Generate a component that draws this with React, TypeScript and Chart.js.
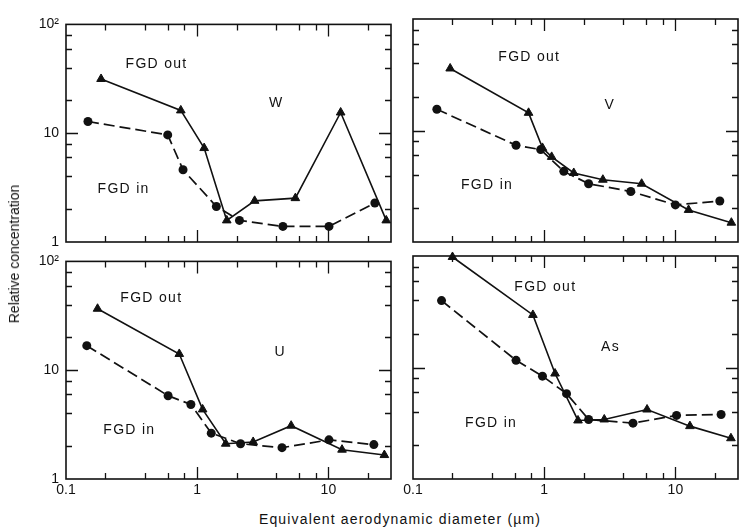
import React, { useEffect, useRef } from "react";
import { Chart, registerables } from "chart.js";

Chart.register(...registerables);

// Equivalent aerodynamic diameter (µm) and relative concentration per element.
// "Out" = FGD outlet (triangles, solid), "In" = FGD inlet (circles, dashed).
const wOutSize = [0.185, 0.75, 1.13, 1.68, 2.74, 5.6, 12.4, 27.6];
const wOut = [31.5, 16.2, 7.3, 1.58, 2.39, 2.53, 15.5, 1.58];
const wInSize = [0.147, 0.596, 0.78, 1.4, 2.1, 4.5, 10.1, 22.6];
const wIn = [12.8, 9.65, 4.61, 2.12, 1.58, 1.39, 1.39, 2.28];

const vOutSize = [0.192, 0.76, 0.97, 1.14, 1.68, 2.8, 5.53, 12.6, 26.7];
const vOut = [36, 14.4, 6.98, 5.8, 4.16, 3.62, 3.33, 1.94, 1.49];
const vInSize = [0.152, 0.61, 0.94, 1.41, 2.18, 4.57, 10, 21.8];
const vIn = [15.5, 7.37, 6.74, 4.3, 3.33, 2.84, 2.15, 2.33];

const uOutSize = [0.174, 0.73, 1.1, 1.65, 2.67, 5.2, 12.7, 26.7];
const uOut = [36.7, 14.1, 4.36, 2.11, 2.19, 3.09, 1.86, 1.66];
const uInSize = [0.144, 0.6, 0.895, 1.28, 2.14, 4.43, 10.1, 22.2];
const uIn = [16.8, 5.83, 4.84, 2.64, 2.11, 1.94, 2.29, 2.07];

const asOutSize = [0.2, 0.82, 1.21, 1.81, 2.87, 6.08, 12.9, 26.5];
const asOut = [98, 29.6, 8.83, 3.35, 3.42, 4.2, 2.98, 2.32];
const asInSize = [0.165, 0.61, 0.97, 1.48, 2.18, 4.75, 10.2, 22.3];
const asIn = [39.8, 11.6, 8.36, 5.83, 3.42, 3.17, 3.72, 3.79];

// Axis ticks
const xMajor = [0.1, 1, 10];
const xMinor = [0.2, 0.4, 0.6, 0.8, 2, 4, 6, 8, 20];
const yMajor = [1, 10, 100];
const yMinor = [2, 4, 6, 8, 20, 40, 60, 80];
const xTickText: Record<number, string> = { 0.1: "0.1", 1: "1", 10: "10" };
const yTickText: Record<number, string> = { 1: "1", 10: "10", 100: "10²" };

const INK = "#111";
const FONT = '"Liberation Sans", Arial, sans-serif';

type Note = { text: string; x: number; y: number };
type Panel = {
  id: string;
  outSize: number[];
  out: number[];
  inSize: number[];
  inn: number[];
  notes: Note[];
  left: number;
  top: number;
  showX: boolean;
  showY: boolean;
};

const PLOT_W = 330;
const PLOT_H = 223;
const M_LEFT = 45;
const M_TOP = 10;
const M_RIGHT = 1;
const M_BOTTOM = 24;

const panels: Panel[] = [
  {
    id: "W", outSize: wOutSize, out: wOut, inSize: wInSize, inn: wIn,
    notes: [
      { text: "FGD out", x: 0.49, y: 42.7 },
      { text: "W", x: 4.0, y: 19 },
      { text: "FGD in", x: 0.275, y: 3.07 },
    ],
    left: 66, top: 19, showX: false, showY: true,
  },
  {
    id: "V", outSize: vOutSize, out: vOut, inSize: vInSize, inn: vIn,
    notes: [
      { text: "FGD out", x: 0.77, y: 45.5 },
      { text: "V", x: 3.16, y: 16.8 },
      { text: "FGD in", x: 0.367, y: 3.26 },
    ],
    left: 413, top: 19, showX: false, showY: false,
  },
  {
    id: "U", outSize: uOutSize, out: uOut, inSize: uInSize, inn: uIn,
    notes: [
      { text: "FGD out", x: 0.447, y: 46 },
      { text: "U", x: 4.3, y: 14.7 },
      { text: "FGD in", x: 0.304, y: 2.8 },
    ],
    left: 66, top: 256, showX: true, showY: true,
  },
  {
    id: "As", outSize: asOutSize, out: asOut, inSize: asInSize, inn: asIn,
    notes: [
      { text: "FGD out", x: 1.02, y: 52.8 },
      { text: "As", x: 3.2, y: 15.2 },
      { text: "FGD in", x: 0.394, y: 3.15 },
    ],
    left: 413, top: 256, showX: true, showY: false,
  },
];

// Box frame plus inward-pointing ticks on all four sides
const frameTicks = {
  id: "frameTicks",
  beforeDatasetsDraw(chart: any) {
    const { ctx, chartArea: a, scales } = chart;
    const x = scales.x;
    const y = scales.y;
    ctx.save();
    ctx.strokeStyle = INK;
    ctx.lineWidth = 1.6;
    ctx.strokeRect(a.left, a.top, a.right - a.left, a.bottom - a.top);
    ctx.lineWidth = 1.3;
    ctx.beginPath();
    const xt = [...xMajor.map((v) => [v, 12]), ...xMinor.map((v) => [v, 6])];
    for (const [v, len] of xt) {
      const px = Math.round(x.getPixelForValue(v)) + 0.5;
      if (px <= a.left + 1 || px >= a.right - 1) continue;
      ctx.moveTo(px, a.bottom);
      ctx.lineTo(px, a.bottom - len);
      ctx.moveTo(px, a.top);
      ctx.lineTo(px, a.top + len);
    }
    const yt = [...yMajor.map((v) => [v, 12]), ...yMinor.map((v) => [v, 6])];
    for (const [v, len] of yt) {
      const py = Math.round(y.getPixelForValue(v)) + 0.5;
      if (py <= a.top + 1 || py >= a.bottom - 1) continue;
      ctx.moveTo(a.left, py);
      ctx.lineTo(a.left + len, py);
      ctx.moveTo(a.right, py);
      ctx.lineTo(a.right - len, py);
    }
    ctx.stroke();
    ctx.restore();
  },
};

// In-plot text placed in data coordinates
const panelNotes = {
  id: "panelNotes",
  afterDatasetsDraw(chart: any, _args: any, opts: any) {
    const { ctx, scales } = chart;
    const notes: Note[] = opts.notes || [];
    ctx.save();
    ctx.fillStyle = INK;
    ctx.font = `14px ${FONT}`;
    (ctx as any).letterSpacing = "1.3px";
    ctx.textAlign = "center";
    ctx.textBaseline = "middle";
    for (const n of notes) {
      ctx.fillText(n.text, scales.x.getPixelForValue(n.x), scales.y.getPixelForValue(n.y));
    }
    ctx.restore();
  },
};

function PanelChart({ p }: { p: Panel }) {
  const ref = useRef<HTMLCanvasElement | null>(null);
  useEffect(() => {
    if (!ref.current) return;
    const tickFont = { family: FONT, size: 14 };
    const chart = new Chart(ref.current, {
      type: "line",
      data: {
        datasets: [
          {
            label: "FGD out",
            data: p.outSize.map((x, i) => ({ x, y: p.out[i] })),
            borderColor: INK,
            backgroundColor: INK,
            borderWidth: 1.6,
            pointStyle: "triangle",
            pointRadius: 5,
            pointBorderWidth: 1,
            clip: false,
          } as any,
          {
            label: "FGD in",
            data: p.inSize.map((x, i) => ({ x, y: p.inn[i] })),
            borderColor: INK,
            backgroundColor: INK,
            borderWidth: 1.7,
            borderDash: [11, 5],
            pointStyle: "circle",
            pointRadius: 4.5,
            pointBorderWidth: 0,
            clip: false,
          } as any,
        ],
      },
      options: {
        animation: false,
        responsive: false,
        events: [],
        layout: { padding: { top: M_TOP, right: M_RIGHT, left: 0, bottom: 0 } },
        plugins: {
          legend: { display: false },
          tooltip: { enabled: false },
          panelNotes: { notes: p.notes },
        } as any,
        scales: {
          x: {
            type: "logarithmic",
            min: 0.1,
            max: 30,
            grid: { display: false, drawTicks: false },
            border: { display: false },
            afterBuildTicks: (s: any) => {
              s.ticks = xMajor.map((value) => ({ value }));
            },
            afterFit: (s: any) => {
              s.height = M_BOTTOM;
            },
            ticks: {
              display: p.showX,
              autoSkip: false,
              maxRotation: 0,
              padding: 3,
              color: INK,
              font: tickFont,
              callback: (v: any) => xTickText[Number(v)] ?? "",
            },
          },
          y: {
            type: "logarithmic",
            min: 1,
            max: 100,
            grid: { display: false, drawTicks: false },
            border: { display: false },
            afterBuildTicks: (s: any) => {
              s.ticks = yMajor.map((value) => ({ value }));
            },
            afterFit: (s: any) => {
              s.width = M_LEFT;
            },
            ticks: {
              display: p.showY,
              autoSkip: false,
              padding: 7,
              color: INK,
              font: tickFont,
              callback: (v: any) => yTickText[Number(v)] ?? "",
            },
          },
        },
      } as any,
      plugins: [frameTicks, panelNotes],
    });
    return () => chart.destroy();
  }, [p]);

  const w = PLOT_W + M_LEFT + M_RIGHT;
  const h = PLOT_H + M_TOP + M_BOTTOM;
  return (
    <canvas
      ref={ref}
      width={w}
      height={h}
      style={{
        position: "absolute",
        left: p.left - M_LEFT,
        top: p.top - M_TOP,
        width: w,
        height: h,
      }}
    />
  );
}

export default function App() {
  return (
    <div
      style={{
        position: "fixed",
        left: 0,
        top: 0,
        width: 743,
        height: 531,
        background: "#fff",
        overflow: "hidden",
        fontFamily: FONT,
        color: INK,
      }}
    >
      {panels.map((p) => (
        <PanelChart key={p.id} p={p} />
      ))}
      <div
        style={{
          position: "absolute",
          left: 14,
          top: 254,
          transform: "translate(-50%, -50%) rotate(-90deg)",
          whiteSpace: "nowrap",
          fontSize: 14,
          lineHeight: "16px",
        }}
      >
        Relative concentration
      </div>
      <div
        style={{
          position: "absolute",
          left: 400,
          top: 519,
          transform: "translate(-50%, -50%)",
          whiteSpace: "nowrap",
          fontSize: 14,
          lineHeight: "16px",
          letterSpacing: "1.15px",
        }}
      >
        Equivalent aerodynamic diameter (µm)
      </div>
    </div>
  );
}
